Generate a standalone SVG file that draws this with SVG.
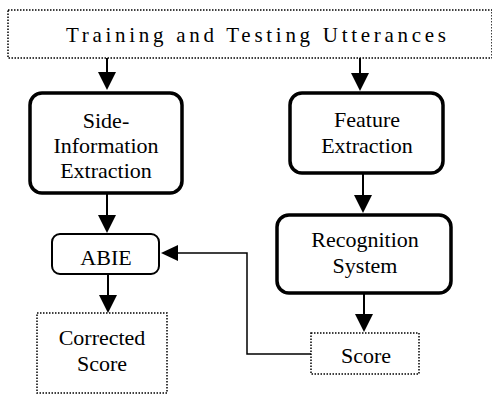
<svg xmlns="http://www.w3.org/2000/svg" width="492" height="394" viewBox="0 0 492 394">
<style>
text{font-family:"Liberation Serif","Times New Roman",serif !important;fill:#000}
.thick{fill:#fff;stroke:#000;stroke-width:3.5}
.mid{fill:#fff;stroke:#000;stroke-width:2}
.dot{fill:#fff;stroke:#000;stroke-width:1.5;stroke-dasharray:1.5 1.5}
.con{fill:none;stroke:#000;stroke-width:2}
.fb{fill:none;stroke:#000;stroke-width:1.5}
.head{fill:#000;stroke:none}
</style>
<g id="utterances">
<rect class="dot" x="8" y="10" width="484" height="48"/>
<text x="256" y="42" style="font-family:'Liberation Serif',serif" font-size="21" text-anchor="middle" textLength="380" lengthAdjust="spacing">Training and Testing Utterances</text>
</g>
<g id="side-info">
<rect class="thick" x="30" y="93" width="152" height="100" rx="12"/>
<text x="106" y="128" style="font-family:'Liberation Serif',serif" font-size="22" text-anchor="middle">Side-</text>
<text x="106" y="153" style="font-family:'Liberation Serif',serif" font-size="22" text-anchor="middle">Information</text>
<text x="106" y="178" style="font-family:'Liberation Serif',serif" font-size="22" text-anchor="middle">Extraction</text>
</g>
<g id="feature">
<rect class="thick" x="290" y="93" width="153" height="80" rx="12"/>
<text x="367" y="127" style="font-family:'Liberation Serif',serif" font-size="22" text-anchor="middle">Feature</text>
<text x="367" y="153" style="font-family:'Liberation Serif',serif" font-size="22" text-anchor="middle">Extraction</text>
</g>
<g id="recognition">
<rect class="thick" x="277" y="215" width="174" height="78" rx="12"/>
<text x="365" y="247" style="font-family:'Liberation Serif',serif" font-size="22" text-anchor="middle">Recognition</text>
<text x="365" y="273" style="font-family:'Liberation Serif',serif" font-size="22" text-anchor="middle">System</text>
</g>
<g id="abie">
<rect class="mid" x="52" y="234" width="107" height="40" rx="8"/>
<text x="106" y="265" style="font-family:'Liberation Serif',serif" font-size="22" text-anchor="middle">ABIE</text>
</g>
<g id="corrected">
<rect class="dot" x="37" y="313" width="130" height="80"/>
<text x="102" y="345" style="font-family:'Liberation Serif',serif" font-size="22" text-anchor="middle">Corrected</text>
<text x="102" y="371" style="font-family:'Liberation Serif',serif" font-size="22" text-anchor="middle">Score</text>
</g>
<g id="score">
<rect class="dot" x="311" y="333" width="108" height="41"/>
<text x="366" y="363" style="font-family:'Liberation Serif',serif" font-size="22" text-anchor="middle">Score</text>
</g>
<g id="connectors">
<line class="con" x1="107" y1="58" x2="107" y2="73"/>
<polygon class="head" points="98,72 116,72 107,90"/>
<line class="con" x1="360" y1="58" x2="360" y2="74"/>
<polygon class="head" points="351,73 369,73 360,91"/>
<line class="con" x1="107" y1="193" x2="107" y2="216"/>
<polygon class="head" points="98,215 116,215 107,233"/>
<line class="con" x1="363" y1="173" x2="363" y2="196"/>
<polygon class="head" points="354,195 372,195 363,213"/>
<line class="con" x1="364" y1="293" x2="364" y2="315"/>
<polygon class="head" points="355,314 373,314 364,332"/>
<line class="con" x1="108" y1="274" x2="108" y2="296"/>
<polygon class="head" points="99,295 117,295 108,313"/>
<polyline class="fb" points="311,354 247,354 247,253 177,253"/>
<polygon class="head" points="178,245 178,261 161,253"/>
</g>
</svg>
